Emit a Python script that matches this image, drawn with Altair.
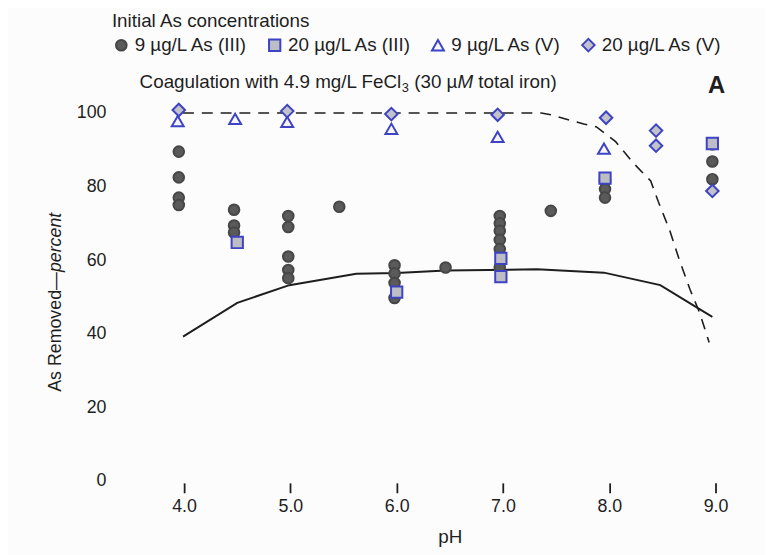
import altair as alt
import pandas as pd

FONT = "Liberation Sans"
INK = "#1e1e1e"
BLUE = "#3d43c2"

series_names = ["9 µg/L As (III)", "20 µg/L As (III)", "9 µg/L As (V)", "20 µg/L As (V)"]

# 9 µg/L As(III) (filled circles)
c_ph = [3.95, 3.95, 3.95, 3.95, 4.47, 4.47, 4.47, 4.98, 4.98, 4.98, 4.98, 4.98, 5.46,
        5.98, 5.98, 5.98, 5.98, 6.46, 6.97, 6.97, 6.97, 6.97, 6.97, 6.97, 7.45,
        7.96, 7.96, 7.96, 8.97, 8.97, 8.97]
c_val = [89.5, 82.5, 77.0, 75.0, 73.7, 69.4, 67.5, 72.0, 69.0, 61.0, 57.3, 55.1, 74.5,
         58.6, 56.4, 53.8, 49.7, 58.0, 72.0, 70.0, 68.0, 65.5, 63.0, 58.0, 73.4,
         81.5, 79.3, 77.0, 91.5, 86.8, 82.0]
# 20 µg/L As(III) (squares)
s_ph = [4.5, 6.0, 6.98, 6.98, 7.96, 8.97]
s_val = [64.8, 51.3, 60.5, 55.5, 82.3, 91.7]
# 9 µg/L As(V) (triangles)
t_ph = [3.94, 4.48, 4.97, 5.95, 6.95, 7.95]
t_val = [97.8, 98.4, 97.6, 95.7, 93.5, 90.3]
# 20 µg/L As(V) (diamonds)
d_ph = [3.95, 4.97, 5.95, 6.95, 7.97, 8.44, 8.44, 8.97]
d_val = [100.8, 100.5, 99.7, 99.5, 98.7, 95.2, 91.1, 78.8]

# model curves
solid_ph = [3.99, 4.5, 4.99, 5.62, 6.0, 6.46, 7.32, 7.95, 8.48, 8.83, 8.97]
solid_val = [39.2, 48.4, 53.2, 56.3, 56.5, 57.2, 57.5, 56.6, 53.2, 47.0, 44.6]
dash_ph = [3.99, 7.36, 7.45, 7.76, 7.88, 8.06, 8.23, 8.39, 8.46, 8.57, 8.66, 8.76, 8.85, 8.94]
dash_val = [100, 100, 99.5, 97.0, 96.2, 92.2, 86.3, 81.5, 76.0, 68.0, 60.0, 52.0, 45.7, 37.6]

x_ticks = [4, 5, 6, 7, 8, 9]
y_ticks = [0, 20, 40, 60, 80, 100]

pts = pd.concat([
    pd.DataFrame({"pH": c_ph, "val": c_val, "series": series_names[0]}),
    pd.DataFrame({"pH": s_ph, "val": s_val, "series": series_names[1]}),
    pd.DataFrame({"pH": t_ph, "val": t_val, "series": series_names[2]}),
    pd.DataFrame({"pH": d_ph, "val": d_val, "series": series_names[3]}),
], ignore_index=True)
solid = pd.DataFrame({"pH": solid_ph, "val": solid_val})
dash = pd.DataFrame({"pH": dash_ph, "val": dash_val})

xs = alt.Scale(domain=[3.6, 9.4], nice=False, zero=False)
ys = alt.Scale(domain=[0, 110], nice=False, zero=False)

x_enc = alt.X("pH:Q", scale=xs, title="pH",
              axis=alt.Axis(values=x_ticks, format=".1f", domain=False, grid=False,
                            tickSize=10, tickWidth=1.8, tickColor=INK, offset=2,
                            labelPadding=5, labelFontSize=18, labelFont=FONT, labelColor=INK,
                            titleFontSize=19, titleFont=FONT, titleFontWeight="normal",
                            titleColor=INK, titlePadding=12))
y_enc = alt.Y("val:Q", scale=ys, title=None,
              axis=alt.Axis(values=y_ticks, domain=False, grid=False, ticks=False,
                            labelPadding=36, labelFontSize=18, labelFont=FONT, labelColor=INK))

legend = alt.Legend(title="Initial As concentrations", orient="none", direction="horizontal",
                    legendX=-30, legendY=-65, titleFontSize=19, titleFont=FONT,
                    titleFontWeight="normal", titleColor=INK, titlePadding=5, titleLimit=400,
                    labelFontSize=19, labelFont=FONT, labelColor=INK, labelOffset=4,
                    labelLimit=300, columnPadding=16, symbolStrokeWidth=2)
dom = series_names
fill = alt.Fill("series:N", scale=alt.Scale(domain=dom, range=["#5a5a5a", "#bdbdc6", "#f6f6fa", "#c2c2ca"]), legend=legend)
stroke = alt.Stroke("series:N", scale=alt.Scale(domain=dom, range=["#474747", BLUE, BLUE, BLUE]), legend=legend)
shape = alt.Shape("series:N", scale=alt.Scale(domain=dom, range=["circle", "square", "triangle-up", "diamond"]), legend=legend)
size = alt.Size("series:N", scale=alt.Scale(domain=dom, range=[115, 160, 190, 230]), legend=legend)

solid_line = alt.Chart(solid).mark_line(color=INK, strokeWidth=2).encode(x=x_enc, y=y_enc)
dash_line = alt.Chart(dash).mark_line(color=INK, strokeWidth=1.6, strokeDash=[11, 8]).encode(x=x_enc, y=y_enc)
points = alt.Chart(pts).mark_point(filled=False, strokeWidth=2, opacity=1).encode(
    x=x_enc, y=y_enc, fill=fill, stroke=stroke, shape=shape, size=size)


def label(text, x, y, size=19, style="normal", weight="normal", align="left", angle=0, baseline="middle"):
    return alt.Chart(alt.Data(values=[{}])).mark_text(
        text=text, fontSize=size, font=FONT, fontStyle=style, fontWeight=weight,
        align=align, baseline=baseline, angle=angle, color=INK
    ).encode(x=alt.value(x), y=alt.value(y))


texts = [
    label("Coagulation with 4.9 mg/L FeCl", -2, 6),
    label("3", 263, 12, size=13),
    label("(30 µ", 275.5, 6),
    label("M", 319.2, 6, style="italic"),
    label("total iron)", 340.3, 6),
    label("A", 581, 10, size=24, weight="bold", align="center"),
    label("As Removed—", -81, 319, size=18, angle=270, baseline="alphabetic"),
    label("percent", -81, 198, size=18, style="italic", angle=270, baseline="alphabetic"),
]

chart = alt.layer(solid_line, dash_line, points, *texts).properties(
    width=623, height=409,
    autosize=alt.AutoSizeParams(type="none"),
    padding={"left": 135, "top": 66, "right": 7, "bottom": 72},
    background="#fcfcfd",
).configure_view(strokeWidth=0)

chart.save("out.html", embed_options={"renderer": "svg", "actions": False})
